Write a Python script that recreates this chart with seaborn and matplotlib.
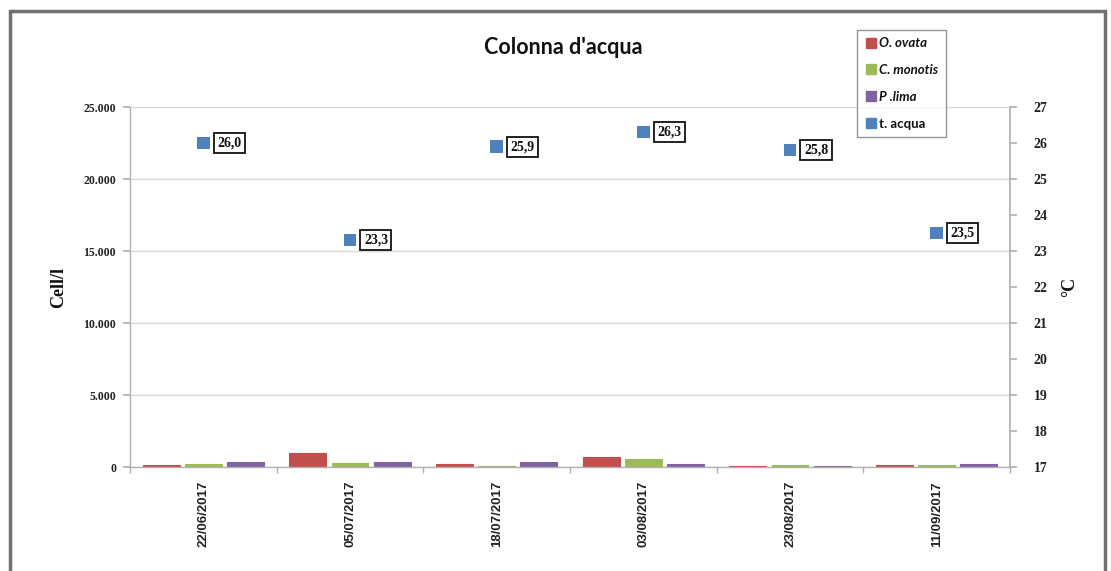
import numpy as np
import pandas as pd
import matplotlib
matplotlib.use("Agg")
import matplotlib.pyplot as plt
import matplotlib.ticker as mticker
from matplotlib.patches import Rectangle
from matplotlib.lines import Line2D
import seaborn as sns

dates = ["22/06/2017", "05/07/2017", "18/07/2017", "03/08/2017", "23/08/2017", "11/09/2017"]
o_ovata = [140, 950, 185, 695, 90, 160]
c_monotis = [185, 255, 70, 555, 160, 140]
p_lima = [325, 325, 325, 230, 90, 185]
t_acqua = [26.0, 23.3, 25.9, 26.3, 25.8, 23.5]
series_names = ["O. ovata", "C. monotis", "P .lima"]
temp_name = "t. acqua"
colors = ["#C0504D", "#9BBB59", "#8064A2"]
temp_color = "#4F81BD"

df = pd.DataFrame({
    "date": dates * 3,
    "species": sum([[n] * len(dates) for n in series_names], []),
    "cells": o_ovata + c_monotis + p_lima,
})

sns.set_theme(style="white")
W, H = 1111, 571
fig = plt.figure(figsize=(W / 100, H / 100), dpi=100)
fig.patch.set_facecolor("white")
ax = fig.add_axes([130 / W, 1 - 467 / H, 880 / W, 360 / H])

sns.barplot(data=df, x="date", y="cells", hue="species", order=dates,
            hue_order=series_names, palette=colors, width=0.86, gap=0.12,
            ax=ax, legend=False, saturation=1)
for bar in ax.patches:
    bar.set_edgecolor(bar.get_facecolor())
    bar.set_linewidth(0.8)

ax.set_xlim(-0.5, 5.5)
ax.set_ylim(0, 25000)
ax.yaxis.set_major_locator(mticker.MultipleLocator(5000))
ax.yaxis.set_major_formatter(mticker.FuncFormatter(lambda v, p: f"{int(v):,}".replace(",", ".")))
ax.grid(axis="y", color="#d9d9d9", linewidth=1.0)
ax.set_axisbelow(True)
for s in ["top", "right"]:
    ax.spines[s].set_visible(False)
for s in ["left", "bottom"]:
    ax.spines[s].set_color("#b0b0b0")
    ax.spines[s].set_linewidth(1.0)
ax.tick_params(axis="y", which="major", left=True, length=5, color="#b0b0b0", pad=5)
for lab in ax.get_yticklabels():
    lab.set_fontfamily("Liberation Serif")
    lab.set_fontweight("bold")
    lab.set_fontsize(8.5)
    lab.set_color("#222222")
ax.set_xticks(range(len(dates)))
ax.set_xticklabels(dates, rotation=90, fontfamily="Liberation Sans", fontweight="bold",
                   fontsize=9.5, color="#222222")
ax.tick_params(axis="x", which="major", length=0, pad=10)
ax.set_xticks(np.arange(-0.5, len(dates), 1.0), minor=True)
ax.tick_params(axis="x", which="minor", bottom=True, length=4, color="#b0b0b0")
ax.set_xlabel("")
ax.set_ylabel("Cell/l", fontfamily="Liberation Serif", fontweight="bold", fontsize=13,
              labelpad=12, color="#111111")

ax2 = ax.twinx()
sns.scatterplot(x=np.arange(len(dates)), y=t_acqua, marker="s", s=80, color=temp_color,
                edgecolor="none", ax=ax2, zorder=5, legend=False)
ax2.set_ylim(17, 27)
ax2.set_xlim(-0.5, 5.5)
ax2.yaxis.set_major_locator(mticker.MultipleLocator(1))
for s in ["top", "left", "bottom"]:
    ax2.spines[s].set_visible(False)
ax2.spines["right"].set_color("#b0b0b0")
ax2.tick_params(axis="y", right=True, length=5, color="#b0b0b0", pad=12)
for lab in ax2.get_yticklabels():
    lab.set_fontfamily("Liberation Serif")
    lab.set_fontweight("bold")
    lab.set_fontsize(10)
    lab.set_color("#222222")
ax2.set_ylabel("°C", fontfamily="Liberation Serif", fontweight="bold", fontsize=13,
               labelpad=10, color="#111111")
ax2.grid(False)

for i, t in enumerate(t_acqua):
    ax2.annotate(f"{t:.1f}".replace(".", ","), xy=(i, t), xytext=(10, 0),
                 textcoords="offset points", ha="left", va="center",
                 fontfamily="Liberation Serif", fontweight="bold", fontsize=10,
                 color="#111111",
                 bbox=dict(boxstyle="square,pad=0.25", fc="white", ec="#111111", lw=1.3),
                 zorder=6)

fig.text(563 / W, 1 - 48 / H, "Colonna d'acqua", ha="center", va="center",
         fontfamily="Lato", fontweight="bold", fontsize=15.5, color="#111111")

handles = [Line2D([], [], marker="s", linestyle="none", markersize=7, color=c) for c in colors]
handles.append(Line2D([], [], marker="s", linestyle="none", markersize=7, color=temp_color))
leg = fig.legend(handles, series_names + [temp_name], loc="upper left",
                 bbox_to_anchor=(857 / W, 1 - 30 / H), borderaxespad=0, frameon=True,
                 fancybox=False, handletextpad=0.15, handlelength=1.0, labelspacing=1.12,
                 borderpad=0.55, prop={"family": "Lato", "size": 9.5, "weight": "bold"})
leg.get_frame().set_edgecolor("#7a7a7a")
leg.get_frame().set_linewidth(1.0)
for i, txt in enumerate(leg.get_texts()):
    if i < 3:
        txt.set_fontstyle("italic")
    txt.set_color("#111111")

fig.patches.append(Rectangle((10 / W, -0.05), (1105 - 10) / W, 1.05 - 11 / H,
                             transform=fig.transFigure, fill=False, ec="#707070", lw=2.5,
                             zorder=0))

fig.savefig("out.png", dpi=100)
